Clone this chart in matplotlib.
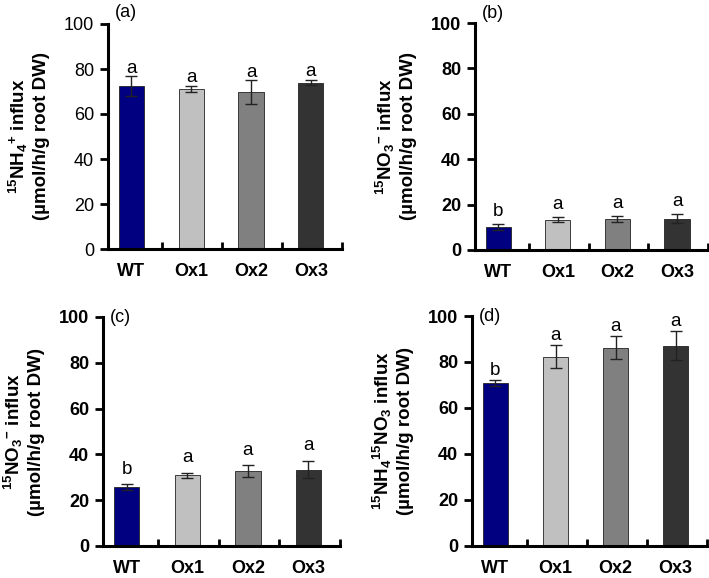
import matplotlib
matplotlib.use("Agg")
import matplotlib.pyplot as plt
import numpy as np

plt.rcParams['font.family'] = ['Liberation Sans', 'DejaVu Sans']
plt.rcParams['mathtext.fontset'] = 'custom'
plt.rcParams['mathtext.rm'] = 'Liberation Sans'
plt.rcParams['mathtext.bf'] = 'Liberation Sans:bold'
plt.rcParams['mathtext.it'] = 'Liberation Sans:italic'

categories = ["WT", "Ox1", "Ox2", "Ox3"]
colors = ["#000080", "#c0c0c0", "#808080", "#333333"]

vals_a = [72.5, 71.2, 69.8, 74.0]
err_a = [4.3, 1.4, 5.2, 1.3]
sig_a = ["a", "a", "a", "a"]

vals_b = [10.2, 13.4, 13.8, 13.8]
err_b = [1.4, 1.1, 1.3, 2.1]
sig_b = ["b", "a", "a", "a"]

vals_c = [25.6, 30.9, 32.7, 33.4]
err_c = [1.3, 1.1, 2.6, 3.8]
sig_c = ["b", "a", "a", "a"]

vals_d = [70.9, 82.3, 86.2, 87.0]
err_d = [1.4, 4.9, 5.1, 6.3]
sig_d = ["b", "a", "a", "a"]

ylabels = [
    "$\\mathbf{^{15}NH_4{}^{+}}$ influx\n(\u00b5mol/h/g root DW)",
    "$\\mathbf{^{15}NO_3{}^{-}}$ influx\n(\u00b5mol/h/g root DW)",
    "$\\mathbf{^{15}NO_3{}^{-}}$ influx\n(\u00b5mol/h/g root DW)",
    "$\\mathbf{^{15}NH_4{}^{15}NO_3}$ influx\n(\u00b5mol/h/g root DW)",
]
panel_labels = ["(a)", "(b)", "(c)", "(d)"]

W, H = 709, 578
rects = [
    (108, 342, 24, 249),
    (475, 708, 23, 250),
    (103, 340, 317, 546),
    (472, 707, 316, 546),
]
label_y = [1.05, 1.04, 1.0, 1.0]
tick_bold = [False, True, True, True]
letter_offset = [3.5, 5.5, 6.5, 4.2]

fig = plt.figure(figsize=(W / 100, H / 100), dpi=100)

data = [(vals_a, err_a, sig_a), (vals_b, err_b, sig_b),
        (vals_c, err_c, sig_c), (vals_d, err_d, sig_d)]

for i, ((vals, errs, sigs), (l, r, t, b)) in enumerate(zip(data, rects)):
    ax = fig.add_axes([l / W, 1 - b / H, (r - l) / W, (b - t) / H])
    x = np.arange(len(categories))
    ax.bar(x, vals, width=0.42, color=colors, edgecolor="#222222", linewidth=0.6, zorder=2)
    ax.errorbar(x, vals, yerr=errs, fmt="none", ecolor="#222222", elinewidth=1.0,
                capsize=4, capthick=1.0, zorder=3)
    for xi, v, e, s in zip(x, vals, errs, sigs):
        ax.text(xi, v + e + letter_offset[i], s, ha="center", va="center", fontsize=13.5)
    ax.set_xlim(-0.39, 3.52)
    ax.set_ylim(0, 100)
    ax.set_yticks([0, 20, 40, 60, 80, 100])
    ax.set_xticks(x)
    ax.set_xticklabels(categories, fontsize=13, fontweight="bold")
    ax.tick_params(axis="x", length=0, pad=10)
    ax.set_xticks([0.52, 1.52, 2.52, 3.52], minor=True)
    ax.tick_params(axis="x", which="minor", direction="in", length=5, width=2)
    ax.tick_params(axis="y", direction="out", length=6, width=2, labelsize=13, pad=4)
    for lab in ax.get_yticklabels():
        lab.set_fontweight("bold" if tick_bold[i] else "normal")
    for sp in ["top", "right"]:
        ax.spines[sp].set_visible(False)
    for sp in ["left", "bottom"]:
        ax.spines[sp].set_linewidth(2.2)
    ax.set_ylabel(ylabels[i], fontsize=13.5, fontweight="bold", linespacing=1.25, labelpad=10)
    ax.text(0.03, label_y[i], panel_labels[i], transform=ax.transAxes, fontsize=13,
            ha="left", va="center")

fig.savefig("out.png", dpi=100)
